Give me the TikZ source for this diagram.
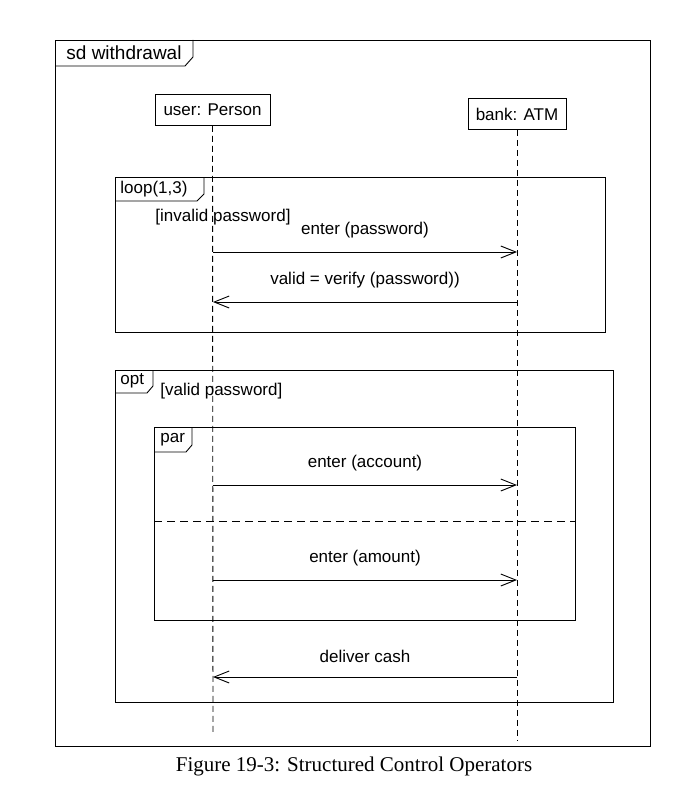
\documentclass[tikz,border=0pt]{standalone}
\usepackage{fontspec}
\setmainfont{Liberation Sans}
\newfontfamily\capfont{Liberation Serif}
\usetikzlibrary{arrows.meta}
\begin{document}
\begin{tikzpicture}[x=1pt,y=-1pt, line width=0.9pt,
  lbl/.style={font=\fontsize{17}{20}\selectfont, inner sep=0pt},
  obj/.style={draw, font=\fontsize{17}{20}\selectfont, inner sep=0pt, minimum height=31pt},
  life/.style={dash pattern=on 6pt off 4pt},
  msg/.style={-{Straight Barb[length=15pt,width=12pt]}},
  sep/.style={dash pattern=on 8pt off 5pt},
]
\useasboundingbox (0,0) rectangle (699,800);
% outer frame
\draw (55,40) rectangle (650,746);
\draw (55,66) -- (185,66) -- (193,57) -- (193,40);
\node[lbl, anchor=west, font=\fontsize{19}{22}\selectfont] (sd) at (66,53) {sd withdrawal};
% objects
\node[obj, minimum width=115pt] (user) at (212.5,110) {user: Person};
\node[obj, minimum width=98pt] (bank) at (517,114) {bank: ATM};
\coordinate (uend) at (213,735);
\coordinate (bend) at (517,740);
\draw[life] (user.south) -- (uend);
\draw[life] (bank.south) -- (bend);
% loop
\draw (115,177) rectangle (605,332);
\draw (115,201) -- (197,201) -- (204,194) -- (204,177);
\node[lbl, anchor=west] (loop) at (120,189.5) {loop(1,3)};
\node[lbl, anchor=west] (g1) at (155,217) {[invalid password]};
\coordinate (u1) at (213,252); \coordinate (b1) at (517,252);
\coordinate (u2) at (213,302); \coordinate (b2) at (517,302);
\draw[msg] (u1) -- node[lbl, above=14pt] (m1) {enter (password)} (b1);
\draw[msg] (b2) -- node[lbl, above=14pt] (m2) {valid = verify (password))} (u2);
% opt
\draw (115,370) rectangle (613,702);
\draw (115,393) -- (147,393) -- (153,386) -- (153,370);
\node[lbl, anchor=west] (opt) at (120,381) {opt};
\node[lbl, anchor=west] (g2) at (160,391) {[valid password]};
% par
\draw (154,427) rectangle (575,620);
\draw (154,452) -- (186,452) -- (192,445) -- (192,427);
\node[lbl, anchor=west] (par) at (160,439.5) {par};
\coordinate (s1) at (154,521); \coordinate (s2) at (575,521);
\draw[sep] (s1) -- (s2);
\coordinate (u3) at (213,485); \coordinate (b3) at (517,485);
\coordinate (u4) at (213,580); \coordinate (b4) at (517,580);
\coordinate (u5) at (213,677); \coordinate (b5) at (517,677);
\draw[msg] (u3) -- node[lbl, above=14pt] (m3) {enter (account)} (b3);
\draw[msg] (u4) -- node[lbl, above=14pt] (m4) {enter (amount)} (b4);
\draw[msg] (b5) -- node[lbl, above=14pt] (m5) {deliver cash} (u5);
% caption
\node[inner sep=0pt, font=\capfont\fontsize{21}{24}\selectfont] (cap) at (354,766) {Figure 19-3: Structured Control Operators};
\end{tikzpicture}
\end{document}
